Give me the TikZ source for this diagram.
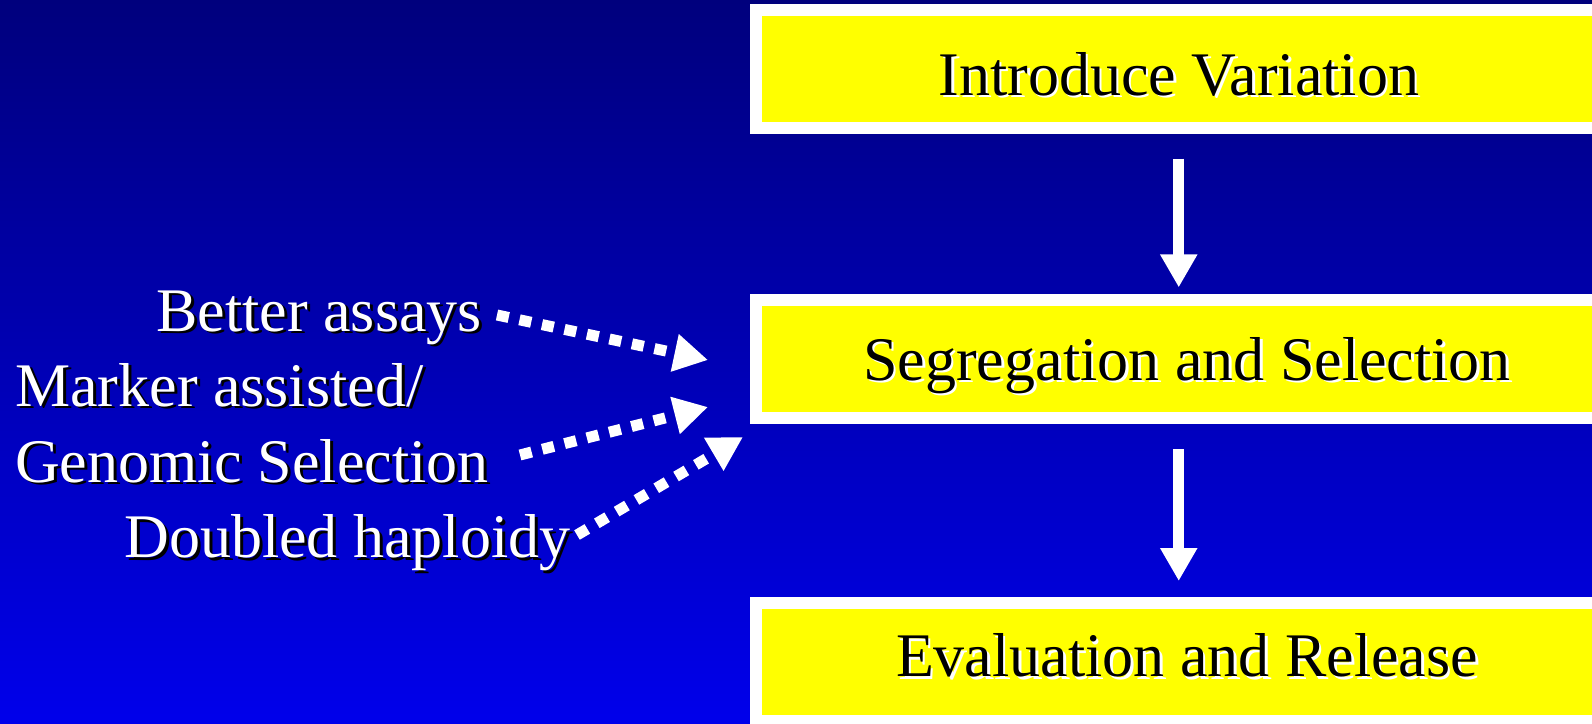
\documentclass[tikz,border=0pt]{standalone}
\usepackage{fontspec}
\setmainfont{Liberation Serif}
\newfontfamily\slidefont{Liberation Serif}
\usetikzlibrary{arrows.meta}
\definecolor{bgtop}{RGB}{0,0,125}
\definecolor{bgbot}{RGB}{0,0,235}
\definecolor{boxyellow}{RGB}{255,255,0}
\begin{document}
\begin{tikzpicture}[x=1pt,y=-1pt,
  box/.style={rectangle, fill=boxyellow, draw=white, line width=12pt, minimum height=118pt, inner sep=0pt},
  bigfont/.style={font=\slidefont\fontsize{62}{66}\selectfont, inner sep=0pt},
  boxtext/.style={bigfont, text=black},
  boxshadow/.style={bigfont, text=white},
  sidetext/.style={bigfont, text=white},
  sideshadow/.style={bigfont, text=black},
  flow/.style={draw=white, line width=11pt, -{Triangle[width=35pt,length=33pt]}},
  hint/.style={draw=white, line width=11pt, dash pattern=on 12pt off 11pt, -{Triangle[width=36pt,length=34pt]}}
]
\useasboundingbox (0,0) rectangle (1592,723);
\clip (0,0) rectangle (1592,723);
\shade[top color=bgtop, bottom color=bgbot] (0,0) rectangle (1592,723);

% boxes
\node[box, minimum width=846.5pt] (b1) at (1178.75,68.5) {};
\node[box, minimum width=863pt] (b2) at (1187,359.4) {};
\node[box, minimum width=863pt] (b3) at (1187,662) {};

% box texts (white shadow, then black text)
\node[boxshadow, anchor=base] (t1s) at (1181.3,97.5) {Introduce Variation};
\node[boxtext, anchor=base] (t1) at (1178.8,95) {Introduce Variation};
\node[boxshadow, anchor=base] (t2s) at (1189.5,382.5) {Segregation and Selection};
\node[boxtext, anchor=base] (t2) at (1187,380) {Segregation and Selection};
\node[boxshadow, anchor=base] (t3s) at (1189.5,679) {Evaluation and Release};
\node[boxtext, anchor=base] (t3) at (1187,676.5) {Evaluation and Release};

% flow arrows
\draw[flow] ([yshift=-25pt]b1.south) -- ([yshift=7pt]b2.north -| b1.south);
\draw[flow] ([yshift=-25pt]b2.south -| b1.south) -- ([yshift=16pt]b3.north -| b1.south);

% side texts (black shadow, then white text)
\node[sideshadow, anchor=base east] (s1s) at (485,333.5) {Better assays};
\node[sidetext, anchor=base east] (s1) at (482,331) {Better assays};
\node[sideshadow, anchor=base west] (s2s) at (18,408.5) {Marker assisted/};
\node[sidetext, anchor=base west] (s2) at (15,406) {Marker assisted/};
\node[sideshadow, anchor=base west] (s3s) at (18,484.5) {Genomic Selection};
\node[sidetext, anchor=base west] (s3) at (15,482) {Genomic Selection};
\node[sideshadow, anchor=base east] (s4s) at (573.6,560) {Doubled haploidy};
\node[sidetext, anchor=base east] (s4) at (570.6,557.5) {Doubled haploidy};

% dotted hint arrows
\coordinate (h1a) at (497,315);
\coordinate (h1b) at (708,360);
\coordinate (h2a) at (520,455);
\coordinate (h2b) at (708,407);
\coordinate (h3a) at (577,535);
\coordinate (h3b) at (743,437);
\draw[hint] (h1a) -- (h1b);
\draw[hint] (h2a) -- (h2b);
\draw[hint] (h3a) -- (h3b);
\end{tikzpicture}
\end{document}
